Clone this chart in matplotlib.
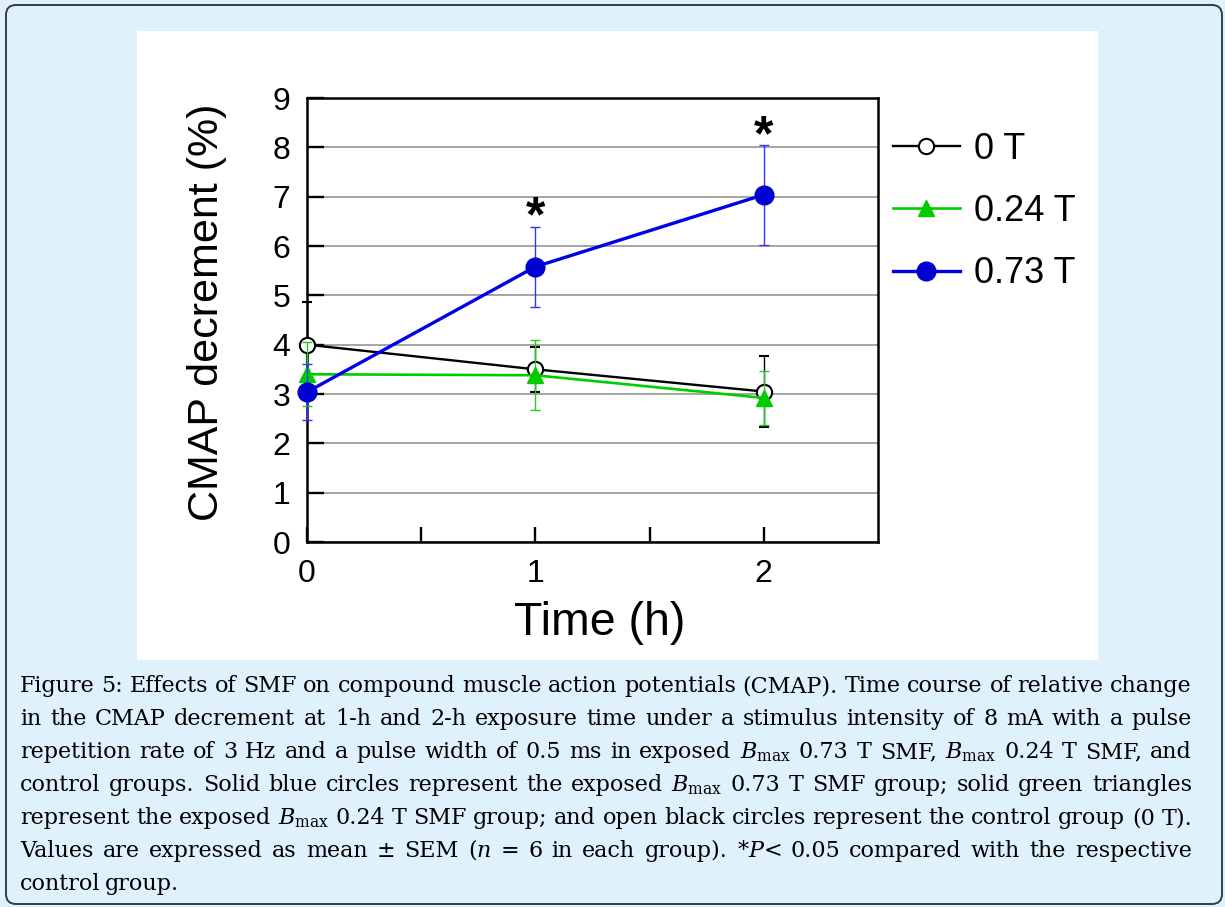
import matplotlib.pyplot as plt
from matplotlib.patches import FancyBboxPatch, Rectangle
from matplotlib.transforms import IdentityTransform

times = [0, 1, 2]
cmap_0t = [4.0, 3.5, 3.05]
sem_0t = [0.87, 0.45, 0.72]
cmap_024t = [3.4, 3.38, 2.92]
sem_024t = [0.65, 0.71, 0.55]
cmap_073t = [3.04, 5.58, 7.04]
sem_073t = [0.57, 0.81, 1.01]
labels = ["0 T", "0.24 T", "0.73 T"]
star_times = [1, 2]
star_y = [6.72, 8.37]

caption = [
    "Figure 5: Effects of SMF on compound muscle action potentials (CMAP). Time course of relative change",
    "in the CMAP decrement at 1-h and 2-h exposure time under a stimulus intensity of 8 mA with a pulse",
    r"repetition rate of 3 Hz and a pulse width of 0.5 ms in exposed $B_{\mathrm{max}}$ 0.73 T SMF, $B_{\mathrm{max}}$ 0.24 T SMF, and",
    r"control groups. Solid blue circles represent the exposed $B_{\mathrm{max}}$ 0.73 T SMF group; solid green triangles",
    r"represent the exposed $B_{\mathrm{max}}$ 0.24 T SMF group; and open black circles represent the control group (0 T).",
    r"Values are expressed as mean ± SEM ($n$ = 6 in each group). *$P$< 0.05 compared with the respective",
    "control group.",
]

plt.rcParams["font.family"] = ["Liberation Sans", "DejaVu Sans"]
plt.rcParams["mathtext.fontset"] = "dejavuserif"

W, H = 1225, 907
fig = plt.figure(figsize=(W / 100, H / 100), dpi=100, facecolor="#dff1fb")

# outer rounded border and white panel behind the chart
fig.patches.append(FancyBboxPatch((6, 3), 1216, 899, boxstyle="round,pad=0,rounding_size=10",
                                  transform=IdentityTransform(), facecolor="none",
                                  edgecolor="#3a3a3a", lw=1.4, zorder=-2))
fig.patches.append(Rectangle((137, H - 660), 961, 629, transform=IdentityTransform(),
                             facecolor="white", edgecolor="none", zorder=-1))

ax = fig.add_axes([307 / W, 1 - 542 / H, (878 - 307) / W, (542 - 98) / H])

styles = [
    dict(color="black", lw=1.7, marker="o", ms=11, mfc="white", mec="black", mew=1.5, ecolor="black"),
    dict(color="#00cc00", lw=1.9, marker="^", ms=12, mfc="#00cc00", mec="#00cc00", ecolor="#22cc22"),
    dict(color="#0000e6", lw=2.4, marker="o", ms=13.5, mfc="#0000d0", mec="#0000d0", ecolor="#3333ff"),
]
series = [(cmap_0t, sem_0t), (cmap_024t, sem_024t), (cmap_073t, sem_073t)]
handles = []
for i, ((vals, err), st) in enumerate(zip(series, styles)):
    c = ax.errorbar(times, vals, yerr=err, elinewidth=1.0, capsize=3.6, capthick=1.0,
                    zorder=3 + i, **st)
    for art in c.get_children():
        art.set_clip_on(False)
    handles.append(c[0])

# significance marks, nudged so the glyph itself sits at star_y
for t, y in zip(star_times, star_y):
    ax.annotate("*", (t, y), xytext=(0, -15), textcoords="offset points",
                ha="center", va="baseline", fontsize=36, fontweight="bold")

ax.set_xlim(0, 2.5)
ax.set_ylim(0, 9)
ax.set_xticks([0, 0.5, 1, 1.5, 2])
ax.set_xticklabels(["0", "", "1", "", "2"])
ax.set_yticks(range(10))
ax.tick_params(direction="in", width=1.7, labelsize=23)
ax.tick_params(axis="y", length=12.5, pad=12)
ax.tick_params(axis="x", length=11, pad=12)
ax.grid(axis="y", color="#8c8c8c", lw=1.1)
ax.set_axisbelow(True)
for s in ax.spines.values():
    s.set_linewidth(1.8)

fig.text(207 / W, 1 - 312 / H, "CMAP decrement (%)", rotation=90, ha="center", va="center", fontsize=31)
fig.text(600 / W, 1 - 623 / H, "Time (h)", ha="center", va="center", fontsize=33.5)

ax.legend(handles, labels, loc="upper left", bbox_to_anchor=(893 / W, 1 - 132 / H),
          bbox_transform=fig.transFigure, frameon=False, fontsize=26, borderpad=0,
          handlelength=1.85, handletextpad=0.4, labelspacing=0.75, borderaxespad=0)

# justified caption, one word at a time
renderer = fig.canvas.get_renderer()
x_left, x_right = 20, 1192
cap_fs = 16
for k, line in enumerate(caption):
    y_px = 692 + 33 * k
    words = line.split(" ")
    items = [fig.text(0, 1 - y_px / H, w, fontsize=cap_fs, family="DejaVu Serif", va="baseline",
                      color="black") for w in words]
    widths = [t.get_window_extent(renderer).width for t in items]
    if k == len(caption) - 1:
        gap = 0.3 * cap_fs
    else:
        gap = (x_right - x_left - sum(widths)) / (len(words) - 1)
    x = x_left
    for t, w in zip(items, widths):
        t.set_x(x / W)
        x += w + gap

fig.savefig("out.png", dpi=100, facecolor=fig.get_facecolor())
